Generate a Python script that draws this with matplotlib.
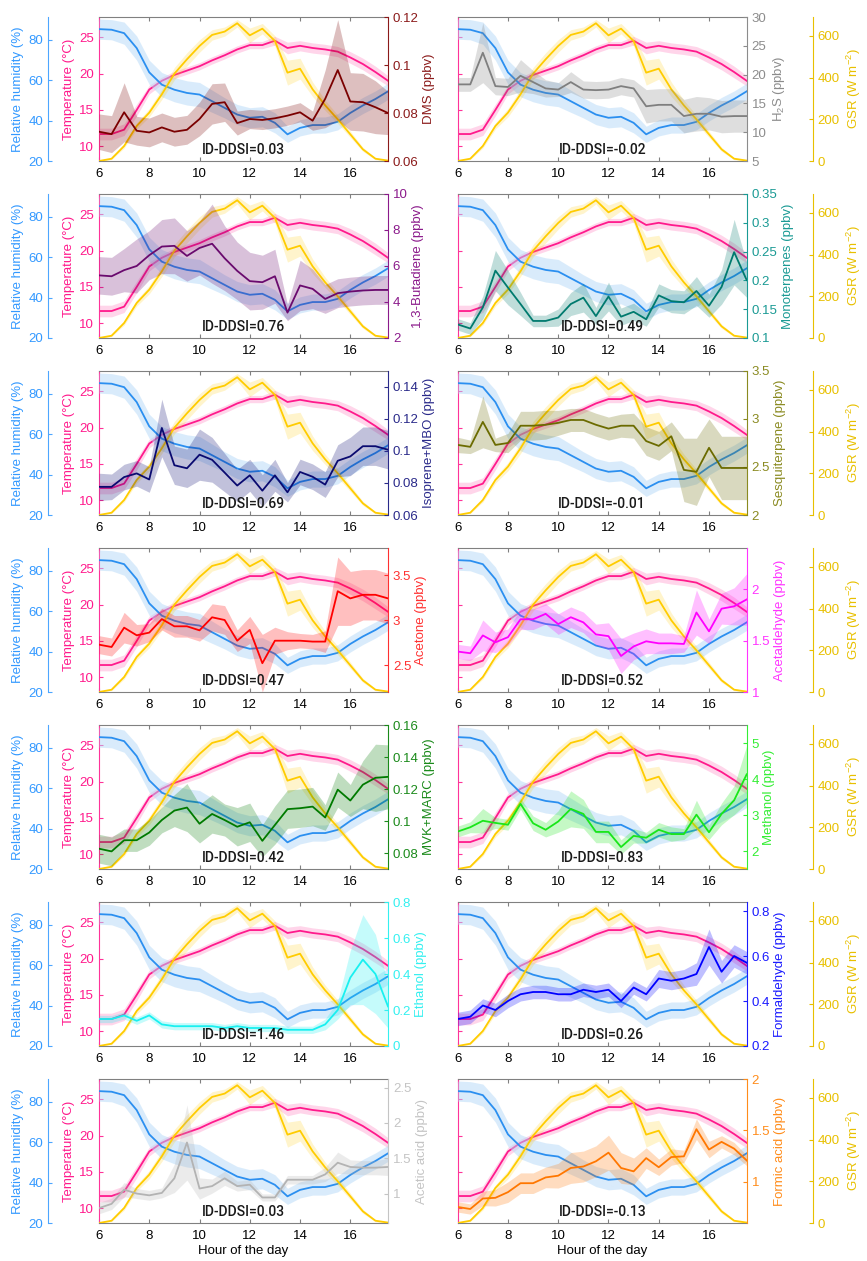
import matplotlib
matplotlib.use('Agg')
import matplotlib.pyplot as plt
import numpy as np
from matplotlib.ticker import FuncFormatter

plt.rcParams['font.family'] = ['Liberation Sans', 'DejaVu Sans']
plt.rcParams['mathtext.default'] = 'regular'
plt.rcParams['font.size'] = 9.5

hours = [6, 6.5, 7, 7.5, 8, 8.5, 9, 9.5, 10, 10.5, 11, 11.5,
         12, 12.5, 13, 13.5, 14, 14.5, 15, 15.5, 16, 16.5, 17, 17.5]

temp = [11.7, 11.7, 12.3, 15.0, 17.8, 19.0, 19.8, 20.4, 21.0, 21.8, 22.5, 23.3,
        23.9, 23.9, 24.5, 23.5, 23.8, 23.5, 23.3, 23.0, 22.2, 21.3, 20.2, 19.0]
temp_sd = [0.8, 0.8, 0.8, 0.8, 0.6, 0.5, 0.5, 0.5, 0.5, 0.5, 0.5, 0.5,
           0.5, 0.5, 0.6, 0.8, 0.7, 0.7, 0.7, 0.7, 0.8, 0.8, 0.8, 0.7]
rh = [85.3, 85.0, 83.3, 75.9, 63.9, 57.8, 55.3, 53.7, 52.9, 49.6, 46.3, 43.0,
      41.4, 41.9, 38.9, 33.2, 36.4, 37.8, 37.8, 39.4, 43.8, 47.5, 50.7, 54.5]
rh_sd = [5, 5, 5.5, 6, 6, 6, 6, 6, 6, 5.5, 5, 5,
         5, 5, 5, 4, 4, 4, 4, 4, 4, 4, 4, 4]
gsr = [0, 11, 72, 168, 232, 320, 419, 488, 552, 605, 621, 661,
       603, 635, 576, 424, 443, 344, 267, 200, 128, 56, 11, 2]
gsr_sd = [0, 4, 10, 15, 20, 25, 30, 32, 30, 25, 22, 18,
          35, 25, 25, 60, 50, 35, 25, 20, 15, 10, 5, 2]

# compounds
dms = [0.0722, 0.0712, 0.0803, 0.0726, 0.0719, 0.074, 0.0722, 0.073, 0.0775, 0.0838, 0.0845, 0.0758,
       0.0775, 0.0771, 0.0778, 0.0789, 0.0803, 0.0768, 0.0859, 0.0979, 0.0848, 0.0845, 0.0824, 0.080]
dms_sd = [0.0074, 0.0077, 0.0123, 0.006, 0.006, 0.006, 0.006, 0.006, 0.007, 0.0084, 0.008, 0.005,
          0.004, 0.004, 0.004, 0.004, 0.004, 0.004, 0.012, 0.021, 0.012, 0.012, 0.011, 0.009]
h2s = [18.3, 18.3, 23.8, 18.0, 17.85, 19.8, 18.7, 17.6, 17.4, 18.7, 17.4, 17.3,
       17.4, 18.0, 17.6, 14.5, 14.75, 14.75, 12.8, 13.2, 13.2, 12.7, 12.8, 12.8]
h2s_sd = [1.2, 1.2, 5.2, 1.5, 1.5, 2.8, 2.0, 1.5, 1.2, 1.8, 1.5, 1.5,
          1.5, 1.5, 1.5, 2.9, 2.8, 2.8, 2.9, 3.0, 2.8, 2.8, 2.8, 2.8]
butadiene = [5.48, 5.43, 5.77, 6.0, 6.6, 7.08, 7.12, 6.56, 7.0, 7.24, 6.43, 5.73,
             5.16, 5.1, 5.43, 3.41, 4.92, 4.73, 4.17, 4.49, 4.58, 4.64, 4.67, 4.67]
butadiene_sd = [1.04, 1.05, 1.2, 1.5, 1.36, 1.5, 1.55, 1.4, 1.5, 2.2, 1.8, 1.6,
                1.6, 1.5, 1.5, 0.45, 1.4, 1.1, 0.8, 0.8, 0.8, 0.8, 0.8, 0.8]
monoterp = [0.1236, 0.1165, 0.153, 0.217, 0.1875, 0.159, 0.1296, 0.1296, 0.1355, 0.159, 0.170, 0.138,
            0.172, 0.137, 0.1455, 0.1325, 0.174, 0.164, 0.162, 0.1816, 0.156, 0.1887, 0.249, 0.2005]
monoterp_sd = [0.01, 0.01, 0.02, 0.035, 0.03, 0.02, 0.01, 0.01, 0.015, 0.02, 0.025, 0.015,
               0.025, 0.015, 0.015, 0.012, 0.02, 0.02, 0.02, 0.025, 0.02, 0.03, 0.057, 0.03]
isoprene = [0.0776, 0.0776, 0.0837, 0.086, 0.0822, 0.1144, 0.0911, 0.0892, 0.0977, 0.0945, 0.0865, 0.0784,
            0.0848, 0.0752, 0.0848, 0.0742, 0.0869, 0.0839, 0.079, 0.0939, 0.0966, 0.103, 0.103, 0.1008]
isoprene_sd = [0.0085, 0.008, 0.008, 0.008, 0.008, 0.018, 0.012, 0.012, 0.016, 0.014, 0.012, 0.01,
               0.01, 0.01, 0.01, 0.006, 0.008, 0.008, 0.008, 0.01, 0.012, 0.012, 0.012, 0.012]
sesqui = [2.73, 2.71, 2.97, 2.73, 2.75, 2.93, 2.93, 2.94, 2.96, 2.99, 2.99, 2.94,
          2.90, 2.93, 2.93, 2.77, 2.72, 2.82, 2.47, 2.45, 2.70, 2.49, 2.49, 2.49]
sesqui_sd = [0.08, 0.07, 0.27, 0.07, 0.1, 0.15, 0.15, 0.15, 0.13, 0.12, 0.12, 0.12,
             0.12, 0.12, 0.13, 0.15, 0.15, 0.15, 0.33, 0.35, 0.3, 0.33, 0.33, 0.33]
acetone = [2.726, 2.70, 2.915, 2.83, 2.86, 3.01, 2.93, 2.93, 2.885, 3.03, 3.0, 2.77,
           2.89, 2.52, 2.77, 2.77, 2.77, 2.76, 2.76, 3.32, 3.24, 3.28, 3.28, 3.24]
acetone_sd = [0.1, 0.1, 0.17, 0.12, 0.1, 0.12, 0.12, 0.12, 0.12, 0.15, 0.16, 0.12,
              0.15, 0.32, 0.15, 0.1, 0.08, 0.08, 0.12, 0.38, 0.3, 0.28, 0.28, 0.28]
acetald = [1.393, 1.377, 1.55, 1.483, 1.533, 1.707, 1.707, 1.76, 1.66, 1.727, 1.677, 1.56,
           1.543, 1.35, 1.443, 1.493, 1.473, 1.473, 1.467, 1.773, 1.59, 1.81, 1.833, 1.9]
acetald_sd = [0.07, 0.07, 0.15, 0.1, 0.08, 0.1, 0.1, 0.1, 0.1, 0.1, 0.1, 0.1,
              0.13, 0.17, 0.13, 0.12, 0.1, 0.1, 0.08, 0.22, 0.12, 0.15, 0.18, 0.25]
mvk = [0.0827, 0.081, 0.088, 0.088, 0.0928, 0.1006, 0.1065, 0.1084, 0.0983, 0.1044, 0.1006, 0.0964,
       0.0992, 0.0876, 0.0975, 0.1074, 0.108, 0.109, 0.1022, 0.1196, 0.1128, 0.1227, 0.127, 0.1276]
mvk_sd = [0.009, 0.009, 0.007, 0.007, 0.008, 0.008, 0.01, 0.015, 0.012, 0.012, 0.01, 0.012,
          0.012, 0.01, 0.012, 0.012, 0.012, 0.012, 0.008, 0.011, 0.01, 0.015, 0.021, 0.02]
methanol = [2.54, 2.66, 2.84, 2.78, 2.73, 3.31, 2.77, 2.59, 2.82, 3.17, 3.03, 2.53,
            2.53, 2.11, 2.42, 2.37, 2.59, 2.47, 2.47, 3.01, 2.52, 3.03, 3.41, 4.13]
methanol_sd = [0.15, 0.15, 0.34, 0.15, 0.15, 0.15, 0.2, 0.2, 0.3, 0.5, 0.4, 0.3,
               0.3, 0.2, 0.2, 0.15, 0.2, 0.2, 0.15, 0.4, 0.2, 0.3, 0.4, 0.8]
ethanol = [0.15, 0.15, 0.17, 0.14, 0.17, 0.12, 0.11, 0.11, 0.11, 0.11, 0.10, 0.11,
           0.10, 0.10, 0.10, 0.09, 0.09, 0.09, 0.12, 0.20, 0.38, 0.48, 0.40, 0.22]
ethanol_sd = [0.02, 0.02, 0.02, 0.02, 0.02, 0.02, 0.02, 0.02, 0.02, 0.02, 0.02, 0.02,
              0.02, 0.02, 0.02, 0.02, 0.02, 0.02, 0.03, 0.05, 0.15, 0.25, 0.22, 0.12]
formald = [0.32, 0.33, 0.38, 0.36, 0.40, 0.43, 0.44, 0.44, 0.43, 0.43, 0.45, 0.44,
           0.45, 0.40, 0.46, 0.43, 0.50, 0.49, 0.50, 0.52, 0.64, 0.53, 0.60, 0.57]
formald_sd = [0.03, 0.03, 0.03, 0.03, 0.03, 0.03, 0.03, 0.03, 0.03, 0.03, 0.03, 0.03,
              0.03, 0.03, 0.03, 0.03, 0.04, 0.04, 0.04, 0.05, 0.08, 0.05, 0.05, 0.05]
acetic = [0.80, 0.86, 1.06, 1.005, 0.98, 1.014, 1.22, 1.725, 1.076, 1.11, 1.22, 1.11,
          1.13, 0.95, 0.95, 1.2, 1.2, 1.2, 1.275, 1.44, 1.38, 1.37, 1.37, 1.38]
acetic_sd = [0.08, 0.08, 0.1, 0.07, 0.07, 0.07, 0.2, 0.53, 0.15, 0.1, 0.1, 0.07,
             0.07, 0.05, 0.05, 0.06, 0.06, 0.06, 0.1, 0.15, 0.1, 0.1, 0.1, 0.12]
formic = [0.756, 0.736, 0.838, 0.845, 0.90, 0.987, 0.987, 1.043, 1.06, 1.135, 1.149, 1.2,
          1.284, 1.135, 1.102, 1.231, 1.142, 1.241, 1.248, 1.512, 1.314, 1.389, 1.323, 1.208]
formic_sd = [0.05, 0.05, 0.07, 0.08, 0.1, 0.1, 0.1, 0.1, 0.12, 0.15, 0.15, 0.15,
             0.17, 0.15, 0.13, 0.1, 0.08, 0.08, 0.06, 0.1, 0.08, 0.06, 0.06, 0.05]

labels = ['DMS (ppbv)', 'H$_2$S (ppbv)', '1,3-Butadiene (ppbv)', 'Monoterpenes (ppbv)',
          'Isoprene+MBO (ppbv)', 'Sesquiterpene (ppbv)', 'Acetone (ppbv)', 'Acetaldehyde (ppbv)',
          'MVK+MARC (ppbv)', 'Methanol (ppbv)', 'Ethanol (ppbv)', 'Formaldehyde (ppbv)',
          'Acetic acid (ppbv)', 'Formic acid (ppbv)']
ddsi = ['0.03', '-0.02', '0.76', '0.49', '0.69', '-0.01', '0.47', '0.52',
        '0.42', '0.83', '1.46', '0.26', '0.03', '-0.13']
means = [dms, h2s, butadiene, monoterp, isoprene, sesqui, acetone, acetald,
         mvk, methanol, ethanol, formald, acetic, formic]
sds = [dms_sd, h2s_sd, butadiene_sd, monoterp_sd, isoprene_sd, sesqui_sd, acetone_sd, acetald_sd,
       mvk_sd, methanol_sd, ethanol_sd, formald_sd, acetic_sd, formic_sd]
line_colors = ['#7a0000', '#7f7f7f', '#6a0a6e', '#007a6e', '#0a0a70', '#6b6b00', '#ff0000', '#ff00ff',
               '#007a00', '#19e619', '#19f0f0', '#0000ff', '#b3b3b3', '#ff7700']
axis_colors = ['#8b1a1a', '#8c8c8c', '#8b1a8b', '#1a9a94', '#2a2a8a', '#8a8a20', '#ff3030', '#ff33ff',
               '#1a8a1a', '#33ee33', '#33f0f0', '#1a1aff', '#c4c4c4', '#ff8c1a']
ylims = [(0.06, 0.12), (5, 30), (2, 10), (0.1, 0.35), (0.06, 0.15), (2, 3.5), (2.2, 3.8), (1, 2.4),
         (0.07, 0.16), (1.5, 5.5), (0, 0.8), (0.2, 0.84), (0.59, 2.62), (0.6, 2.0)]
yticks = [[0.06, 0.08, 0.1, 0.12], [5, 10, 15, 20, 25, 30], [2, 4, 6, 8, 10],
          [0.1, 0.15, 0.2, 0.25, 0.3, 0.35], [0.06, 0.08, 0.1, 0.12, 0.14], [2, 2.5, 3, 3.5],
          [2.5, 3, 3.5], [1, 1.5, 2], [0.08, 0.1, 0.12, 0.14, 0.16], [2, 3, 4, 5],
          [0, 0.2, 0.4, 0.6, 0.8], [0.2, 0.4, 0.6, 0.8], [1, 1.5, 2, 2.5], [1, 1.5, 2]]

PINK = '#ff1a8c'
PINK_AX = '#ff3399'
BLUE = '#2b8ff0'
BLUE_AX = '#4da6ff'
BLUE_BAND = '#b5d9f8'
GOLD = '#ffcc00'
GOLD_AX = '#e8c000'
GRAY = '#808080'
LW = 1.3

fmt = FuncFormatter(lambda v, p: '%g' % round(v, 4))

W, H = 867, 1261
fig = plt.figure(figsize=(W / 100, H / 100), dpi=100)

hrs = np.array(hours)
t = np.array(temp); ts = np.array(temp_sd)
r = np.array(rh); rs = np.array(rh_sd)
g = np.array(gsr); gs = np.array(gsr_sd)

for i in range(14):
    row, col = i // 2, i % 2
    left = (99 if col == 0 else 457.7) / W
    top = 17 + 177 * row
    ax = fig.add_axes([left, 1 - (top + 144) / H, 289 / W, 144 / H])

    # temperature
    ax.fill_between(hrs, t - ts, t + ts, color=PINK, alpha=0.18, lw=0)
    ax.plot(hrs, t, color=PINK, lw=LW)
    ax.set_xlim(6, 17.5)
    ax.set_ylim(8, 27.75)
    ax.set_xticks([6, 8, 10, 12, 14, 16])
    ax.set_yticks([10, 15, 20, 25])
    ax.xaxis.set_ticks_position('both')
    ax.tick_params(axis='x', direction='in', length=3, color=GRAY, labelsize=9.5, pad=5)
    ax.tick_params(axis='y', direction='in', length=3, color=PINK_AX, labelcolor=PINK, labelsize=9.5)
    for s in ['top', 'bottom']:
        ax.spines[s].set_color(GRAY)
    ax.spines['left'].set_color(PINK_AX)
    ax.spines['right'].set_visible(False)
    if col == 0:
        ax.set_ylabel('Temperature (°C)', color=PINK, fontsize=9.5, labelpad=3)
    else:
        ax.tick_params(axis='y', labelleft=False)
    if row == 6:
        ax.set_xlabel('Hour of the day', fontsize=9.5, labelpad=2)

    # relative humidity
    ax_rh = ax.twinx()
    ax_rh.fill_between(hrs, r - rs, r + rs, color=BLUE_BAND, alpha=0.5, lw=0)
    ax_rh.plot(hrs, r, color=BLUE, lw=LW)
    ax_rh.set_ylim(20, 91.3)
    for s in ax_rh.spines.values():
        s.set_visible(False)
    if col == 0:
        ax_rh.spines['left'].set_visible(True)
        ax_rh.spines['left'].set_position(('outward', 36.7))
        ax_rh.spines['left'].set_color(BLUE_AX)
        ax_rh.yaxis.set_ticks_position('left')
        ax_rh.yaxis.set_label_position('left')
        ax_rh.set_yticks([20, 40, 60, 80])
        ax_rh.tick_params(axis='y', direction='in', length=3, color=BLUE_AX,
                          labelcolor='#3399ff', labelsize=9.5)
        ax_rh.set_ylabel('Relative humidity (%)', color='#3399ff', fontsize=9.5, labelpad=3)
    else:
        ax_rh.set_yticks([])

    # GSR
    ax_g = ax.twinx()
    ax_g.fill_between(hrs, g - gs, g + gs, color=GOLD, alpha=0.2, lw=0)
    ax_g.plot(hrs, g, color=GOLD, lw=LW)
    ax_g.set_ylim(0, 691)
    for s in ax_g.spines.values():
        s.set_visible(False)
    if col == 1:
        ax_g.spines['right'].set_visible(True)
        ax_g.spines['right'].set_position(('outward', 47.5))
        ax_g.spines['right'].set_color(GOLD_AX)
        ax_g.set_yticks([0, 200, 400, 600])
        ax_g.tick_params(axis='y', direction='in', length=3, color=GOLD_AX,
                         labelcolor=GOLD_AX, labelsize=9.5)
        ax_g.set_ylabel('GSR (W m$^{-2}$)', color=GOLD_AX, fontsize=9.5, labelpad=4)
    else:
        ax_g.set_yticks([])

    # compound
    ax_c = ax.twinx()
    m = np.array(means[i]); sd = np.array(sds[i])
    ax_c.fill_between(hrs, m - sd, m + sd, color=line_colors[i], alpha=0.25, lw=0)
    ax_c.plot(hrs, m, color=line_colors[i], lw=LW)
    ax_c.set_ylim(*ylims[i])
    ax_c.set_yticks(yticks[i])
    ax_c.yaxis.set_major_formatter(fmt)
    for s in ['top', 'bottom', 'left']:
        ax_c.spines[s].set_visible(False)
    ax_c.spines['right'].set_color(axis_colors[i])
    ax_c.tick_params(axis='y', direction='in', length=3, color=axis_colors[i],
                     labelcolor=axis_colors[i], labelsize=9.5)
    ax_c.set_ylabel(labels[i], color=axis_colors[i], fontsize=9.5, labelpad=3)

    ax_c.text(0.5, 0.075, 'ID-DDSI=' + ddsi[i], transform=ax_c.transAxes,
              ha='center', va='center', fontsize=10, color='#1a1a1a',
              family=['Roboto', 'DejaVu Sans'], fontweight='medium')

fig.savefig('out.png', dpi=100)
